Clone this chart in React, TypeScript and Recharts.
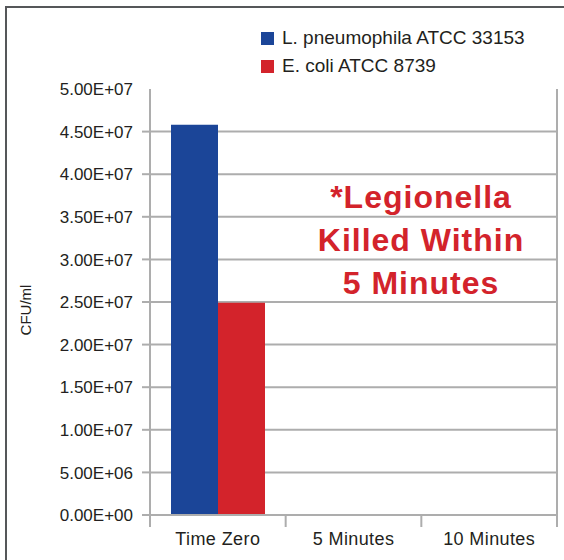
import * as React from 'react'
import {
  Bar,
  BarChart,
  CartesianGrid,
  Customized,
  Legend,
  ReferenceLine,
  XAxis,
  YAxis,
} from 'recharts'

const timePoints = ['Time Zero', '5 Minutes', '10 Minutes']
const legionellaCounts = [4.58e7, 0, 0]
const ecoliCounts = [2.49e7, 0, 0]
const seriesNames = ['L. pneumophila ATCC 33153', 'E. coli ATCC 8739']
const yTicks = [0, 5e6, 1e7, 1.5e7, 2e7, 2.5e7, 3e7, 3.5e7, 4e7, 4.5e7, 5e7]
const noteLines = ['*Legionella', 'Killed Within', '5 Minutes']
const yLabel = 'CFU/ml'

const WIDTH = 564
const HEIGHT = 560
const MARGIN = { top: 89, right: 7, bottom: 0, left: 0 }
const Y_AXIS_W = 150
const X_AXIS_H = 45
const BAND = (WIDTH - Y_AXIS_W - MARGIN.right) / timePoints.length
const Y_MAX = yTicks[yTicks.length - 1]

const FONT = '"Liberation Sans", Arial, Helvetica, sans-serif'
const INK = '#231f20'
const GRID = '#adadad'
const BLUE = '#1b4598'
const RED = '#d3232b'

const data = timePoints.map((time, i) => ({
  time,
  legionella: legionellaCounts[i],
  ecoli: ecoliCounts[i],
}))

// 4.5e7 -> "4.50E+07"
const sci = (v: number) => {
  const [m, e] = v.toExponential(2).split('e')
  const sign = e[0] === '-' ? '-' : '+'
  const digits = e.replace(/[+-]/, '').padStart(2, '0')
  return `${m}E${sign}${digits}`
}

const YTick = (props: any) => {
  const { x, y, payload } = props
  return (
    <g>
      {payload.value < Y_MAX && (
        <line x1={x - 8} x2={x} y1={y} y2={y} stroke={GRID} strokeWidth={2} />
      )}
      <text
        x={x - 17}
        y={y}
        dy="0.36em"
        textAnchor="end"
        fontFamily={FONT}
        fontSize={17}
        fill={INK}
      >
        {sci(payload.value)}
      </text>
    </g>
  )
}

const XTick = (props: any) => {
  const { x, y, payload, index } = props
  const half = BAND / 2
  return (
    <g>
      <line x1={x - half} x2={x - half} y1={y} y2={y + 12} stroke={GRID} strokeWidth={2} />
      {index === timePoints.length - 1 && (
        <line x1={x + half} x2={x + half} y1={y} y2={y + 12} stroke={GRID} strokeWidth={2} />
      )}
      <text
        x={x}
        y={y + 30}
        textAnchor="middle"
        fontFamily={FONT}
        fontSize={18}
        letterSpacing={0.4}
        fill={INK}
      >
        {payload.value}
      </text>
    </g>
  )
}

const LegendContent = (props: any) => {
  const items = [...(props.payload || [])].sort(
    (a: any, b: any) => seriesNames.indexOf(a.value) - seriesNames.indexOf(b.value)
  )
  return (
    <div style={{ fontFamily: FONT, fontSize: 19, color: INK }}>
      {items.map((entry: any) => (
        <div
          key={entry.value}
          style={{ display: 'flex', alignItems: 'center', height: 28, lineHeight: '28px' }}
        >
          <span
            style={{ display: 'inline-block', width: 13, height: 13, background: entry.color, marginRight: 8 }}
          />
          <span>{entry.value}</span>
        </div>
      ))}
    </div>
  )
}

const Notes = () => (
  <g>
    <text
      x={25}
      y={310}
      transform="rotate(-90 25 310)"
      textAnchor="middle"
      dominantBaseline="central"
      fontFamily={FONT}
      fontSize={15}
      fill={INK}
    >
      {yLabel}
    </text>
    {noteLines.map((line, i) => (
      <text
        key={line}
        x={421}
        y={208 + i * 43}
        textAnchor="middle"
        fontFamily={FONT}
        fontWeight="bold"
        fontSize={32}
        letterSpacing={1}
        fill={RED}
      >
        {line}
      </text>
    ))}
  </g>
)

export default function App() {
  return (
    <div
      style={{
        position: 'absolute',
        left: 0,
        top: 0,
        width: WIDTH,
        height: HEIGHT,
        overflow: 'hidden',
        background: '#fff',
      }}
    >
      {/* cropped outer frame: only left and top edges show */}
      <div
        style={{
          position: 'absolute',
          left: 5,
          top: 6,
          width: WIDTH + 20,
          height: HEIGHT + 20,
          borderLeft: '2px solid #555759',
          borderTop: '2px solid #555759',
        }}
      />
      <div style={{ position: 'absolute', left: 0, top: 0 }}>
        <BarChart
          width={WIDTH}
          height={HEIGHT}
          data={data}
          margin={MARGIN}
          barCategoryGap={21}
          barGap={0}
        >
          <CartesianGrid
            vertical={false}
            horizontalValues={yTicks.filter((t) => t < Y_MAX)}
            stroke={GRID}
            strokeWidth={2}
          />
          <XAxis
            dataKey="time"
            height={X_AXIS_H}
            tickSize={0}
            tickMargin={0}
            tickLine={false}
            axisLine={{ stroke: GRID, strokeWidth: 2 }}
            tick={<XTick />}
            interval={0}
          />
          <YAxis
            width={Y_AXIS_W}
            domain={[0, Y_MAX]}
            ticks={yTicks}
            interval={0}
            tickSize={0}
            tickMargin={0}
            tickLine={false}
            axisLine={{ stroke: GRID, strokeWidth: 2 }}
            tick={<YTick />}
          />
          <ReferenceLine
            x={timePoints[timePoints.length - 1]}
            position="end"
            stroke={GRID}
            strokeWidth={2}
          />
          <Legend
            layout="vertical"
            align="center"
            verticalAlign="middle"
            wrapperStyle={{ top: 24, left: 261, width: 300 }}
            content={<LegendContent />}
          />
          <Bar dataKey="legionella" name={seriesNames[0]} fill={BLUE} isAnimationActive={false} />
          <Bar dataKey="ecoli" name={seriesNames[1]} fill={RED} isAnimationActive={false} />
          <Customized component={<Notes />} />
        </BarChart>
      </div>
    </div>
  )
}
